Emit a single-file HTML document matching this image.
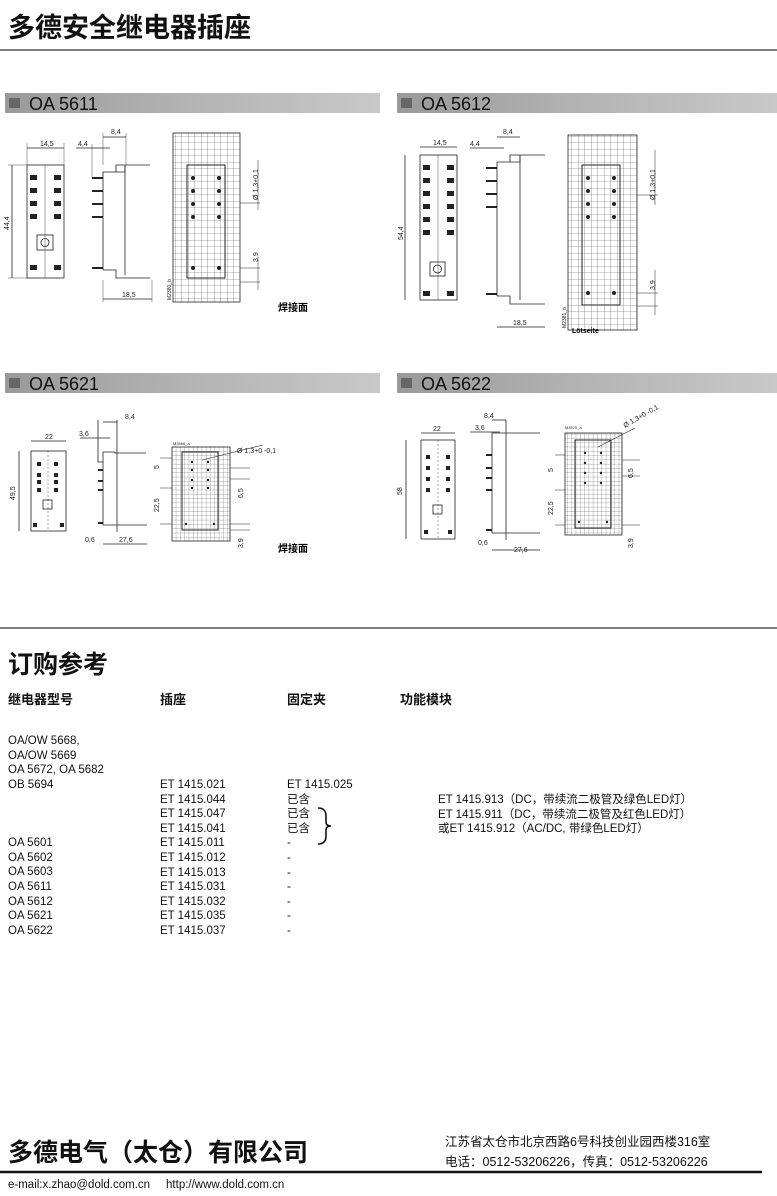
<!DOCTYPE html>
<html><head><meta charset="utf-8"><style>
html,body{margin:0;padding:0;background:#fff}
body{width:777px;height:1196px;position:relative;overflow:hidden;font-family:"Liberation Sans","Noto Sans CJK SC",sans-serif;color:#111}
.t{position:absolute;white-space:nowrap}
.s{font-size:11.5px;line-height:14.6px}
</style></head><body>
<svg width="777" height="1196" style="position:absolute;left:0;top:0" font-family="Liberation Sans, Noto Sans CJK SC, sans-serif">
<defs>
<linearGradient id="bn" x1="0" x2="1"><stop offset="0" stop-color="#9a9a9a"/><stop offset="0.5" stop-color="#b4b4b4"/><stop offset="1" stop-color="#c8c8c8"/></linearGradient>
<pattern id="g6" width="6.5" height="6.5" patternUnits="userSpaceOnUse"><path d="M6.5 0V6.5H0" fill="none" stroke="#555" stroke-width="0.6"/></pattern>
<pattern id="g4" width="4.3" height="4.3" patternUnits="userSpaceOnUse"><path d="M4.3 0V4.3H0" fill="none" stroke="#555" stroke-width="0.5"/></pattern>
</defs>
<line x1="0" y1="50" x2="777" y2="50" stroke="#333" stroke-width="1.2"/>
<rect x="5" y="93" width="375" height="20" fill="url(#bn)"/><rect x="9" y="98" width="11" height="10" fill="#666"/>
<rect x="397" y="93" width="380" height="20" fill="url(#bn)"/><rect x="401" y="98" width="11" height="10" fill="#666"/>
<rect x="5" y="373" width="375" height="20" fill="url(#bn)"/><rect x="9" y="378" width="11" height="10" fill="#666"/>
<rect x="397" y="373" width="380" height="20" fill="url(#bn)"/><rect x="401" y="378" width="11" height="10" fill="#666"/>
<g font-size="18" fill="#111"><text x="29" y="110">OA 5611</text><text x="421" y="110">OA 5612</text><text x="29" y="390">OA 5621</text><text x="421" y="390">OA 5622</text></g>

<g stroke="#222" stroke-width="0.8" fill="none">
<rect x="27" y="165" width="37" height="113"/>
<line x1="45" y1="165" x2="45" y2="278" stroke-width="0.4"/>
<line x1="27" y1="148" x2="64" y2="148"/><line x1="27" y1="143" x2="27" y2="165" stroke-width="0.4"/><line x1="64" y1="143" x2="64" y2="165" stroke-width="0.4"/>
<line x1="12" y1="165" x2="12" y2="278"/><line x1="8" y1="165" x2="27" y2="165" stroke-width="0.4"/><line x1="8" y1="278" x2="27" y2="278" stroke-width="0.4"/>
<rect x="37" y="235" width="16" height="15"/><circle cx="45" cy="242.5" r="4"/>
<path d="M103 270V172H116V165H150"/><path d="M116 172H125V165"/><path d="M103 270H116V278H150"/><path d="M125 275V165"/>
<path d="M92 178H103M92 191H103M92 204H103M92 217H103M92 268H103" stroke-width="2"/>
<line x1="103" y1="137" x2="126" y2="137"/><line x1="103" y1="133" x2="103" y2="165" stroke-width="0.4"/><line x1="126" y1="133" x2="126" y2="165" stroke-width="0.4"/>
<line x1="76" y1="148" x2="110" y2="148"/><line x1="92" y1="144" x2="92" y2="178" stroke-width="0.4"/>
<line x1="103" y1="299" x2="152" y2="299"/><line x1="103" y1="280" x2="103" y2="302" stroke-width="0.4"/><line x1="152" y1="280" x2="152" y2="302" stroke-width="0.4"/>
<rect x="173" y="133" width="67" height="169" fill="url(#g6)"/>
<rect x="187" y="165" width="38" height="113" stroke-width="1"/>
<line x1="240" y1="203" x2="260" y2="203" stroke-width="0.5"/><line x1="240" y1="268" x2="260" y2="268" stroke-width="0.5"/><line x1="240" y1="282" x2="260" y2="282" stroke-width="0.5"/>
<line x1="258" y1="160" x2="258" y2="210" stroke-width="0.5"/><line x1="258" y1="258" x2="258" y2="290" stroke-width="0.5"/>
</g>
<g fill="#222">
<rect x="30" y="175" width="7" height="5"/><rect x="54" y="175" width="7" height="5"/><rect x="30" y="188" width="7" height="5"/><rect x="54" y="188" width="7" height="5"/><rect x="30" y="201" width="7" height="5"/><rect x="54" y="201" width="7" height="5"/><rect x="30" y="214" width="7" height="5"/><rect x="54" y="214" width="7" height="5"/><rect x="30" y="265" width="7" height="5"/><rect x="54" y="265" width="7" height="5"/>
<circle cx="193" cy="178" r="2"/><circle cx="219" cy="178" r="2"/><circle cx="193" cy="191" r="2"/><circle cx="219" cy="191" r="2"/><circle cx="193" cy="204" r="2"/><circle cx="219" cy="204" r="2"/><circle cx="193" cy="217" r="2"/><circle cx="219" cy="217" r="2"/><circle cx="193" cy="268" r="2"/><circle cx="219" cy="268" r="2"/>
</g>
<g font-size="7" fill="#222"><text x="40" y="146">14,5</text><text x="111" y="134">8,4</text><text x="78" y="146">4,4</text><text x="122" y="297">18,5</text>
<text transform="translate(9,230) rotate(-90)">44,4</text><text transform="translate(258,200) rotate(-90)">Ø 1,3+0,1</text><text transform="translate(258,262) rotate(-90)">3,9</text><text transform="translate(171,300) rotate(-90)" font-size="5">M2380_b</text></g>
<text x="278" y="311" font-size="10" font-weight="bold">焊接面</text>

<g stroke="#222" stroke-width="0.8" fill="none">
<rect x="420" y="155" width="37" height="145"/><line x1="438" y1="155" x2="438" y2="300" stroke-width="0.4"/>
<line x1="420" y1="147" x2="457" y2="147"/><line x1="405" y1="155" x2="405" y2="300"/>
<rect x="430" y="262" width="15" height="14"/><circle cx="437.5" cy="269" r="4"/>
<path d="M497 296V162H510V155H545"/><path d="M510 162H520V155"/><path d="M497 296H510V304H545"/><path d="M520 300V155"/>
<path d="M486 168H497M486 181H497M486 194H497M486 207H497M486 294H497" stroke-width="2"/>
<line x1="497" y1="137" x2="520" y2="137"/><line x1="470" y1="148" x2="504" y2="148"/><line x1="497" y1="327" x2="545" y2="327"/>
<rect x="568" y="135" width="69" height="195" fill="url(#g6)"/>
<rect x="582" y="165" width="38" height="140" stroke-width="1"/>
<line x1="637" y1="195" x2="658" y2="195" stroke-width="0.5"/><line x1="637" y1="293" x2="658" y2="293" stroke-width="0.5"/><line x1="637" y1="306" x2="658" y2="306" stroke-width="0.5"/>
<line x1="655" y1="150" x2="655" y2="205" stroke-width="0.5"/><line x1="655" y1="270" x2="655" y2="315" stroke-width="0.5"/>
</g>
<g fill="#222">
<rect x="423" y="165" width="7" height="5"/><rect x="447" y="165" width="7" height="5"/><rect x="423" y="178" width="7" height="5"/><rect x="447" y="178" width="7" height="5"/><rect x="423" y="191" width="7" height="5"/><rect x="447" y="191" width="7" height="5"/><rect x="423" y="204" width="7" height="5"/><rect x="447" y="204" width="7" height="5"/><rect x="423" y="217" width="7" height="5"/><rect x="447" y="217" width="7" height="5"/><rect x="423" y="230" width="7" height="5"/><rect x="447" y="230" width="7" height="5"/><rect x="423" y="291" width="7" height="5"/><rect x="447" y="291" width="7" height="5"/>
<circle cx="588" cy="178" r="2"/><circle cx="614" cy="178" r="2"/><circle cx="588" cy="191" r="2"/><circle cx="614" cy="191" r="2"/><circle cx="588" cy="204" r="2"/><circle cx="614" cy="204" r="2"/><circle cx="588" cy="217" r="2"/><circle cx="614" cy="217" r="2"/><circle cx="588" cy="293" r="2"/><circle cx="614" cy="293" r="2"/>
</g>
<g font-size="7" fill="#222"><text x="433" y="145">14,5</text><text x="503" y="134">8,4</text><text x="470" y="146">4,4</text><text x="513" y="325">18,5</text>
<text transform="translate(403,240) rotate(-90)">54,4</text><text transform="translate(655,200) rotate(-90)">Ø 1,3+0,1</text><text transform="translate(655,290) rotate(-90)">3,9</text><text transform="translate(566,328) rotate(-90)" font-size="5">M2381_b</text></g>
<text x="572" y="333" font-size="7" font-weight="bold">Lötseite</text>

<g stroke="#222" stroke-width="0.8" fill="none">
<rect x="31" y="451" width="35" height="80"/><line x1="48" y1="451" x2="48" y2="531" stroke-width="0.4" stroke-dasharray="2 2"/>
<line x1="31" y1="441" x2="66" y2="441"/><line x1="19" y1="451" x2="19" y2="531"/>
<rect x="43" y="500" width="9" height="9"/>
<path d="M103 525V452H115V453H146"/><path d="M98 420V462H103"/><path d="M117 420V532"/><path d="M103 525H147"/>
<path d="M98 470H103M98 481H103M98 490H103M98 523H103" stroke-width="2"/>
<line x1="103" y1="422" x2="117" y2="422"/><line x1="80" y1="438" x2="110" y2="438"/><line x1="103" y1="544" x2="147" y2="544"/>
<rect x="172" y="447" width="58" height="94" fill="url(#g4)"/>
<rect x="182" y="452" width="36" height="78" stroke-width="1"/>
<line x1="202" y1="460" x2="263" y2="445" stroke-width="0.6"/>
<line x1="160" y1="458" x2="172" y2="458" stroke-width="0.5"/><line x1="160" y1="488" x2="172" y2="488" stroke-width="0.5"/><line x1="160" y1="524" x2="172" y2="524" stroke-width="0.5"/>
<line x1="230" y1="468" x2="250" y2="468" stroke-width="0.5"/><line x1="230" y1="479" x2="250" y2="479" stroke-width="0.5"/><line x1="230" y1="524" x2="250" y2="524" stroke-width="0.5"/><line x1="230" y1="530" x2="250" y2="530" stroke-width="0.5"/>
</g>
<g fill="#222">
<rect x="37" y="462" width="4" height="4"/><rect x="54" y="462" width="4" height="4"/><rect x="37" y="473" width="4" height="4"/><rect x="54" y="473" width="4" height="4"/><rect x="37" y="480" width="4" height="4"/><rect x="54" y="480" width="4" height="4"/><rect x="37" y="488" width="4" height="4"/><rect x="54" y="488" width="4" height="4"/><rect x="33" y="523" width="4" height="4"/><rect x="60" y="523" width="4" height="4"/>
<circle cx="192" cy="462" r="1.2"/><circle cx="208" cy="462" r="1.2"/><circle cx="192" cy="470" r="1.2"/><circle cx="208" cy="470" r="1.2"/><circle cx="192" cy="480" r="1.2"/><circle cx="208" cy="480" r="1.2"/><circle cx="192" cy="488" r="1.2"/><circle cx="208" cy="488" r="1.2"/><circle cx="186" cy="524" r="1.2"/><circle cx="214" cy="524" r="1.2"/>
</g>
<g font-size="7" fill="#222"><text x="45" y="439">22</text><text x="125" y="419">8,4</text><text x="79" y="436">3,6</text><text x="85" y="542">0,6</text><text x="119" y="542">27,6</text><text x="173" y="445" font-size="4">M3566_a</text><text x="237" y="453">Ø 1,3+0 -0,1</text>
<text transform="translate(15,500) rotate(-90)">49,5</text><text transform="translate(159,469) rotate(-90)">5</text><text transform="translate(159,512) rotate(-90)">22,5</text><text transform="translate(243,498) rotate(-90)">6,5</text><text transform="translate(243,548) rotate(-90)">3,9</text></g>
<text x="278" y="552" font-size="10" font-weight="bold">焊接面</text>

<g stroke="#222" stroke-width="0.8" fill="none">
<rect x="421" y="440" width="34" height="99"/><line x1="438" y1="440" x2="438" y2="539" stroke-width="0.4" stroke-dasharray="2 2"/>
<line x1="421" y1="433" x2="455" y2="433"/><line x1="406" y1="440" x2="406" y2="539"/>
<rect x="433" y="505" width="9" height="9"/>
<path d="M492 533V433H506V433H540"/><path d="M506 420V540"/><path d="M492 533H540"/>
<path d="M486 455H492M486 468H492M486 478H492M486 490H492M486 530H492" stroke-width="2"/>
<line x1="492" y1="420" x2="506" y2="420"/><line x1="470" y1="432" x2="500" y2="432"/><line x1="492" y1="550" x2="540" y2="550"/>
<rect x="565" y="433" width="57" height="102" fill="url(#g4)"/>
<rect x="575" y="440" width="36" height="88" stroke-width="1"/>
<line x1="598" y1="447" x2="635" y2="428" stroke-width="0.6"/>
<line x1="555" y1="455" x2="565" y2="455" stroke-width="0.5"/><line x1="555" y1="490" x2="565" y2="490" stroke-width="0.5"/><line x1="555" y1="525" x2="565" y2="525" stroke-width="0.5"/>
<line x1="622" y1="460" x2="640" y2="460" stroke-width="0.5"/><line x1="622" y1="476" x2="640" y2="476" stroke-width="0.5"/><line x1="622" y1="525" x2="640" y2="525" stroke-width="0.5"/>
</g>
<g fill="#222">
<rect x="426" y="455" width="4" height="4"/><rect x="446" y="455" width="4" height="4"/><rect x="426" y="466" width="4" height="4"/><rect x="446" y="466" width="4" height="4"/><rect x="426" y="477" width="4" height="4"/><rect x="446" y="477" width="4" height="4"/><rect x="426" y="488" width="4" height="4"/><rect x="446" y="488" width="4" height="4"/><rect x="424" y="530" width="4" height="4"/><rect x="448" y="530" width="4" height="4"/>
<circle cx="585" cy="453" r="1.2"/><circle cx="601" cy="453" r="1.2"/><circle cx="585" cy="463" r="1.2"/><circle cx="601" cy="463" r="1.2"/><circle cx="585" cy="473" r="1.2"/><circle cx="601" cy="473" r="1.2"/><circle cx="585" cy="483" r="1.2"/><circle cx="601" cy="483" r="1.2"/><circle cx="579" cy="522" r="1.2"/><circle cx="607" cy="522" r="1.2"/>
</g>
<g font-size="7" fill="#222"><text x="433" y="431">22</text><text x="484" y="418">8,4</text><text x="475" y="430">3,6</text><text x="478" y="545">0,6</text><text x="514" y="552">27,6</text><text x="565" y="429" font-size="4">M3570_a</text><text transform="translate(625,428) rotate(-30)">Ø 1,3+0 -0,1</text>
<text transform="translate(402,495) rotate(-90)">58</text><text transform="translate(553,472) rotate(-90)">5</text><text transform="translate(553,515) rotate(-90)">22,5</text><text transform="translate(633,478) rotate(-90)">6,5</text><text transform="translate(633,548) rotate(-90)">3,9</text></g>

<line x1="0" y1="628" x2="777" y2="628" stroke="#333" stroke-width="1.2"/>
<path d="M318 808Q326 808 326 816V822Q326 826 331 826Q326 826 326 830V836Q326 844 318 844" fill="none" stroke="#111" stroke-width="1.6"/>
<line x1="0" y1="1172" x2="762" y2="1172" stroke="#111" stroke-width="2.5"/>
</svg>

<div class="t" style="left:8px;top:6px;font-size:27px;font-weight:bold">多德安全继电器插座</div>
<div class="t" style="left:8px;top:645px;font-size:25px;font-weight:bold">订购参考</div>
<div class="t" style="left:8px;top:689px;font-size:13px;font-weight:bold">继电器型号</div>
<div class="t" style="left:160px;top:689px;font-size:13px;font-weight:bold">插座</div>
<div class="t" style="left:287px;top:689px;font-size:13px;font-weight:bold">固定夹</div>
<div class="t" style="left:400px;top:689px;font-size:13px;font-weight:bold">功能模块</div>
<div class="t s" style="left:8px;top:734px">OA/OW 5668,<br>OA/OW 5669<br>OA 5672, OA 5682<br>OB 5694<br><br><br><br>OA 5601<br>OA 5602<br>OA 5603<br>OA 5611<br>OA 5612<br>OA 5621<br>OA 5622</div>
<div class="t s" style="left:160px;top:778px">ET 1415.021<br>ET 1415.044<br>ET 1415.047<br>ET 1415.041<br>ET 1415.011<br>ET 1415.012<br>ET 1415.013<br>ET 1415.031<br>ET 1415.032<br>ET 1415.035<br>ET 1415.037</div>
<div class="t s" style="left:287px;top:778px">ET 1415.025<br>已含<br>已含<br>已含<br>-<br>-<br>-<br>-<br>-<br>-<br>-</div>
<div class="t s" style="left:438px;top:793px">ET 1415.913（DC，带续流二极管及绿色LED灯）<br>ET 1415.911（DC，带续流二极管及红色LED灯）<br>或ET 1415.912（AC/DC, 带绿色LED灯）</div>
<div class="t" style="left:8px;top:1133px;font-size:25px;font-weight:bold">多德电气（太仓）有限公司</div>
<div class="t" style="left:445px;top:1131px;font-size:12.5px">江苏省太仓市北京西路6号科技创业园西楼316室</div>
<div class="t" style="left:445px;top:1151px;font-size:12.5px">电话：0512-53206226，传真：0512-53206226</div>
<div class="t" style="left:8px;top:1179px;font-size:11.5px">e-mail:x.zhao@dold.com.cn &nbsp;&nbsp;&nbsp;&nbsp;http://www.dold.com.cn</div>
</body></html>
